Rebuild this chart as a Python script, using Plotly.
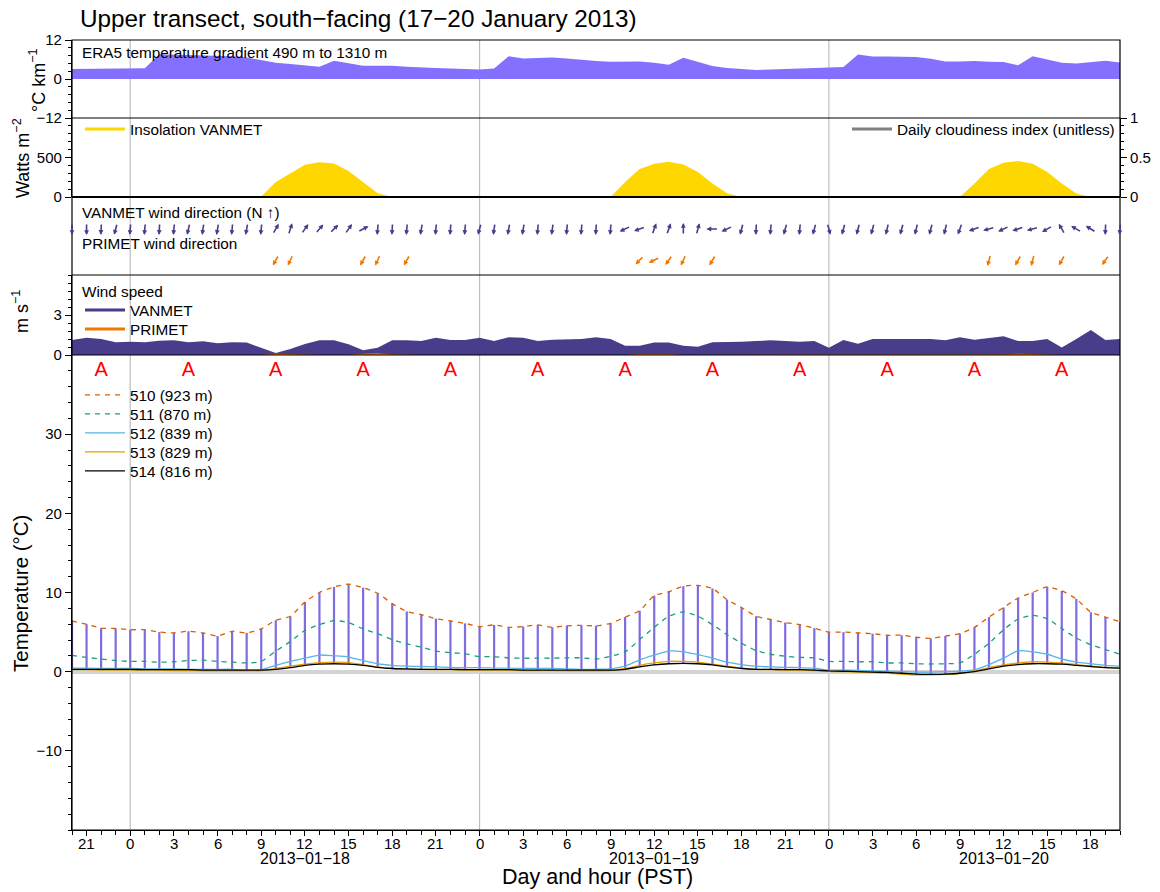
import math
import pandas as pd
import plotly.graph_objects as go

# ---------------- data ----------------
times = pd.date_range("2013-01-17 20:00", periods=73, freq="h")   # hourly, 17 Jan 20:00 .. 20 Jan 20:00

era5_gradient = [3.1, 3.1, 3.2, 3.2, 3.3, 3.3, 7.6, 7.5, 7.5, 7.4, 7.2, 7.0,
                 6.6, 5.9, 5.0, 4.6, 4.2, 3.8, 5.6, 4.8, 4.1, 4.1, 4.1, 3.8,
                 3.5, 3.4, 3.2, 3.0, 2.9, 3.2, 7.0, 6.3, 6.5, 6.6, 6.3, 5.8,
                 5.5, 5.3, 5.4, 5.4, 5.0, 4.4, 6.5, 5.2, 4.0, 3.4, 3.0, 2.8,
                 2.9, 3.1, 3.3, 3.5, 3.6, 3.7, 7.5, 6.9, 6.9, 6.9, 6.8, 6.2,
                 5.4, 5.4, 5.5, 5.3, 5.2, 4.2, 7.0, 6.0, 5.0, 4.8, 5.1, 5.6,
                 5.1]

insolation = [0, 0, 0, 0, 0, 0, 0, 0, 0, 0, 0, 0, 0,
              5, 190, 300, 408, 440, 425, 330, 192, 46,
              0, 0, 0, 0, 0, 0, 0, 0, 0, 0, 0, 0, 0, 0, 0, 0,
              190, 355, 421, 445, 410, 316, 171, 46,
              0, 0, 0, 0, 0, 0, 0, 0, 0, 0, 0, 0, 0, 0, 0, 0,
              170, 355, 435, 455, 420, 315, 170, 45,
              0, 0, 0]

vanmet_speed = [1.12, 1.3, 1.2, 0.95, 1.0, 0.95, 1.07, 1.1, 0.95, 1.03, 0.88, 0.95,
                0.93, 0.55, 0.15, 0.45, 0.82, 1.1, 1.1, 0.8, 0.35, 0.55, 1.1, 1.1,
                1.05, 1.3, 1.12, 1.12, 1.3, 1.05, 1.33, 1.3, 1.05, 1.15, 1.17, 1.2,
                1.33, 1.2, 0.7, 0.7, 0.93, 0.93, 0.7, 0.62, 0.95, 0.95, 1.0, 1.05,
                1.1, 1.05, 1.0, 1.05, 0.55, 1.12, 0.85, 1.2, 1.2, 1.17, 1.2, 1.2,
                1.1, 1.33, 1.15, 1.3, 1.4, 1.05, 1.05, 1.2, 0.57, 1.2, 1.87, 1.12,
                1.2]

primet_speed = [0, 0, 0, 0, 0, 0, 0, 0, 0, 0, 0, 0, 0, 0,
                0.1, 0.06, 0, 0, 0, 0, 0.1, 0.14, 0.04, 0,
                0, 0, 0, 0, 0, 0, 0, 0, 0, 0, 0, 0, 0, 0, 0,
                0.06, 0.08, 0.05, 0, 0, 0, 0, 0, 0, 0, 0, 0, 0, 0, 0,
                0, 0, 0, 0, 0, 0, 0, 0, 0, 0,
                0.04, 0.1, 0.07, 0, 0, 0, 0, 0, 0, 0]

# arrow heading (degrees clockwise from north) for each hour
vanmet_arrow_deg = [180, 180, 183, 195, 185, 185, 183, 185, 193, 188, 190, 185,
                    190, 185, 30, 18, 35, 40, 45, 35, 62, 185, 183, 185,
                    190, 185, 185, 185, 195, 188, 190, 190, 185, 188, 185, 185,
                    183, 185, 245, 250, 20, 20, 0, 15, 270, 245, 195, 183,
                    185, 195, 185, 195, 165, 195, 195, 195, 193, 195, 193, 195,
                    193, 200, 250, 255, 245, 252, 255, 240, 330, 300, 302, 182,
                    185]

primet_times = pd.to_datetime([
    "2013-01-18 10:00", "2013-01-18 11:00", "2013-01-18 16:00", "2013-01-18 17:00",
    "2013-01-18 19:00", "2013-01-19 11:00", "2013-01-19 12:00", "2013-01-19 13:00",
    "2013-01-19 14:00", "2013-01-19 16:00", "2013-01-20 11:00", "2013-01-20 13:00",
    "2013-01-20 14:00", "2013-01-20 16:00", "2013-01-20 19:00"])
primet_arrow_deg = [210, 205, 210, 205, 210, 225, 245, 215, 205, 210, 195, 210, 195, 210, 215]

t510 = [6.4, 6.0, 5.5, 5.45, 5.3, 5.3, 5.0, 4.9, 5.1, 4.9, 4.5, 5.1, 4.9, 5.4,
        6.5, 7.0, 8.8, 10.0, 10.7, 11.05, 10.6, 9.9, 8.6, 7.6,
        7.2, 6.7, 6.4, 6.1, 5.7, 5.9, 5.6, 5.7, 5.9, 5.6,
        5.8, 5.85, 5.8, 6.1, 6.9, 7.7, 9.6, 10.1, 10.8, 10.9,
        10.5, 9.1, 8.1, 7.0, 6.6, 6.2, 5.95, 5.5, 5.0, 5.0,
        4.9, 4.8, 4.6, 4.6, 4.35, 4.2, 4.5, 4.8, 5.6, 6.9,
        8.1, 9.3, 10.0, 10.7, 10.2, 9.2, 7.5, 6.9, 6.3]
t511 = [2.05, 1.8, 1.6, 1.4, 1.3, 1.3, 1.2, 1.25, 1.4, 1.45, 1.3, 1.2, 1.1, 1.3,
        2.6, 3.8, 5.2, 5.95, 6.45, 6.2, 5.4, 4.8, 4.05, 3.5,
        3.1, 2.6, 2.4, 2.25, 1.9, 1.9, 1.75, 1.7, 1.7, 1.7,
        1.75, 1.75, 1.6, 1.95, 2.5, 4.05, 5.6, 7.0, 7.55, 7.0,
        5.95, 4.7, 3.6, 2.65, 2.2, 1.95, 1.8, 1.75, 1.3, 1.3,
        1.25, 1.25, 1.1, 1.1, 1.0, 0.97, 1.0, 1.1, 2.2, 3.6,
        5.3, 6.65, 7.1, 6.7, 5.45, 4.25, 3.4, 2.8, 2.2]
t512 = [0.45, 0.45, 0.4, 0.4, 0.4, 0.35, 0.35, 0.35, 0.3, 0.3, 0.3, 0.3, 0.2, 0.25,
        0.8, 1.3, 1.7, 2.1, 2.0, 1.85, 1.4, 1.0, 0.8, 0.7,
        0.65, 0.6, 0.55, 0.5, 0.5, 0.45, 0.45, 0.4, 0.4, 0.4,
        0.35, 0.3, 0.3, 0.35, 0.7, 1.5, 2.1, 2.6, 2.5, 2.15,
        1.7, 1.2, 0.9, 0.7, 0.6, 0.55, 0.5, 0.45, 0.2, 0.2,
        0.15, 0.1, 0.05, 0.0, -0.05, -0.05, 0.0, 0.05, 0.25, 0.9,
        1.7, 2.65, 2.5, 2.2, 1.6, 1.2, 1.0, 0.8, 0.7]
t513 = [0.25, 0.25, 0.2, 0.2, 0.2, 0.2, 0.2, 0.15, 0.15, 0.1, 0.1, 0.1, 0.1, 0.15,
        0.4, 0.7, 0.95, 1.15, 1.2, 1.15, 0.9, 0.6, 0.4, 0.3,
        0.3, 0.25, 0.25, 0.2, 0.2, 0.2, 0.2, 0.15, 0.15, 0.15,
        0.1, 0.1, 0.1, 0.15, 0.4, 0.8, 1.1, 1.3, 1.3, 1.2,
        0.95, 0.7, 0.45, 0.3, 0.25, 0.2, 0.2, 0.15, 0.05, 0.0,
        -0.05, -0.1, -0.2, -0.3, -0.4, -0.4, -0.35, -0.2, 0.1, 0.5,
        0.85, 1.1, 1.25, 1.2, 1.1, 0.9, 0.7, 0.55, 0.45]
t514 = [0.3, 0.3, 0.3, 0.3, 0.3, 0.25, 0.25, 0.25, 0.25, 0.2, 0.2, 0.2, 0.2, 0.2,
        0.3, 0.5, 0.8, 0.95, 1.0, 0.95, 0.8, 0.55, 0.4, 0.35,
        0.3, 0.3, 0.3, 0.25, 0.25, 0.25, 0.25, 0.2, 0.2, 0.2,
        0.2, 0.2, 0.2, 0.2, 0.3, 0.6, 0.85, 1.0, 1.05, 1.0,
        0.85, 0.6, 0.4, 0.3, 0.3, 0.25, 0.25, 0.2, 0.1, 0.05,
        0.0, -0.05, -0.1, -0.2, -0.3, -0.35, -0.3, -0.2, 0.0, 0.35,
        0.7, 0.9, 1.0, 1.0, 0.95, 0.8, 0.65, 0.5, 0.45]

station_names = ["510 (923 m)", "511 (870 m)", "512 (839 m)", "513 (829 m)", "514 (816 m)"]
station_colors = ["#D95F02", "#1B9E77", "#56B4E9", "#E6A000", "#000000"]
station_dash = ["5px,5px", "5px,5px", "solid", "solid", "solid"]

a_times = pd.date_range("2013-01-17 22:00", periods=12, freq="6h")
midnights = pd.to_datetime(["2013-01-18", "2013-01-19", "2013-01-20"])
day_labels = ["2013\u221201\u221218", "2013\u221201\u221219", "2013\u221201\u221220"]
hour_ticks = pd.date_range("2013-01-17 21:00", "2013-01-20 18:00", freq="3h")
hour_labels = [str(t.hour) for t in hour_ticks]

# ---------------- layout geometry ----------------
W, H = 1160, 892
L_M, R_M, T_M, B_M = 72, 40, 40, 62
PW, PH = W - L_M - R_M, H - T_M - B_M


def px2x(px):
    return (px - L_M) / PW


def py2y(py):
    return (H - B_M - py) / PH


dom1 = [py2y(118), 1.0]
dom2 = [py2y(197), py2y(118)]
dom3 = [py2y(275), py2y(197)]
dom4 = [py2y(355), py2y(275)]
dom5 = [0.0, py2y(355)]

FONT = "Liberation Sans, Arial, sans-serif"
TXT = 15.3
fig = go.Figure()

# ERA5 gradient
fig.add_trace(go.Scatter(x=times, y=era5_gradient, yaxis="y", mode="lines", fill="tozeroy",
                         line=dict(width=0, color="#8470FF"), fillcolor="#8470FF",
                         showlegend=False, hoverinfo="skip"))
# Insolation
fig.add_trace(go.Scatter(x=times, y=insolation, yaxis="y2", mode="lines", fill="tozeroy",
                         line=dict(width=0, color="#FFD700"), fillcolor="#FFD700",
                         showlegend=False))
fig.add_trace(go.Scatter(x=[None], y=[None], yaxis="y2", mode="lines", name="Insolation VANMET",
                         line=dict(color="#FFD700", width=3), legend="legend"))
fig.add_trace(go.Scatter(x=[None], y=[None], yaxis="y3", mode="lines",
                         name="Daily cloudiness index (unitless)",
                         line=dict(color="#808080", width=3), legend="legend2"))
# wind speed
fig.add_trace(go.Scatter(x=times, y=vanmet_speed, yaxis="y5", mode="lines", fill="tozeroy",
                         line=dict(width=0, color="#483D8B"), fillcolor="#483D8B",
                         showlegend=False))
fig.add_trace(go.Scatter(x=times, y=primet_speed, yaxis="y5", mode="lines", fill="tozeroy",
                         line=dict(width=0, color="#F07800"), fillcolor="#F07800",
                         showlegend=False))
fig.add_trace(go.Scatter(x=[None], y=[None], yaxis="y5", mode="lines", name="VANMET",
                         line=dict(color="#483D8B", width=3), legend="legend3"))
fig.add_trace(go.Scatter(x=[None], y=[None], yaxis="y5", mode="lines", name="PRIMET",
                         line=dict(color="#F07800", width=3), legend="legend4"))

# temperature range bars (lowest to highest station)
bx, by = [], []
for t, lo, hi in zip(times, t514, t510):
    bx += [t, t, None]
    by += [lo, hi, None]
fig.add_trace(go.Scatter(x=bx, y=by, yaxis="y6", mode="lines",
                         line=dict(color="rgba(115,95,222,0.92)", width=2.2),
                         showlegend=False, hoverinfo="skip"))
for i, (name, col, dash, series) in enumerate(zip(station_names, station_colors, station_dash,
                                                  [t510, t511, t512, t513, t514])):
    fig.add_trace(go.Scatter(x=times, y=series, yaxis="y6", mode="lines", name=name,
                             line=dict(color=col, width=1.3, dash=dash, shape="spline",
                                       smoothing=0.6),
                             legend="legend%d" % (5 + i)))
fig.add_trace(go.Scatter(x=a_times, y=[38] * len(a_times), yaxis="y6", mode="text",
                         text=["A"] * len(a_times),
                         textfont=dict(color="#FF0000", size=20, family=FONT),
                         showlegend=False))

# ---------------- arrows (wind direction) ----------------
annotations = []
px_per_hour = PW / 72.0
panel3_h = (dom3[1] - dom3[0]) * PH
ARROW = 12.0


def add_arrow(t, deg, row, color):
    th = math.radians(deg)
    sx, sy = math.sin(th), math.cos(th)
    head_x = t + pd.Timedelta(hours=0.5 * ARROW * sx / px_per_hour)
    head_y = row + 0.5 * ARROW * sy / panel3_h
    annotations.append(dict(x=head_x, y=head_y, xref="x", yref="y4", text="",
                            showarrow=True, ax=-ARROW * sx, ay=ARROW * sy,
                            arrowhead=2, arrowsize=0.6, arrowwidth=1.6, arrowcolor=color))


for t, d in zip(times, vanmet_arrow_deg):
    add_arrow(t, d, 0.59, "#483D8B")
for t, d in zip(primet_times, primet_arrow_deg):
    add_arrow(t, d, 0.19, "#F07800")

# ---------------- text annotations ----------------


def txt(text, px, py, size=TXT, anchor="left", angle=0):
    return dict(text=text, x=px2x(px), y=py2y(py), xref="paper", yref="paper",
                xanchor=anchor, yanchor="middle", showarrow=False, textangle=angle,
                font=dict(size=size, family=FONT, color="black"))


annotations += [
    txt("Upper transect, south\u2212facing (17\u221220 January 2013)", 78, 18, size=24.3),
    txt("ERA5 temperature gradient 490 m to 1310 m", 80, 53),
    txt("VANMET wind direction (N \u2191)", 80, 213),
    txt("PRIMET wind direction", 80, 243),
    txt("Wind speed", 80, 291),
    txt("\u00b0C km<sup>\u22121</sup>", 37, 80, size=18, anchor="center", angle=-90),
    txt("Watts m<sup>\u22122</sup>", 21, 158, size=18, anchor="center", angle=-90),
    txt("m s<sup>\u22121</sup>", 21, 312, size=18, anchor="center", angle=-90),
    txt("Temperature (\u00b0C)", 20, 594, size=20.5, anchor="center", angle=-90),
    txt("Day and hour (PST)", 597, 877, size=21.5, anchor="center"),
]
# hour tick labels and day labels below the time axis
for t, lab in zip(hour_ticks, hour_labels):
    annotations.append(dict(text=lab, x=t, y=py2y(843), xref="x", yref="paper",
                            xanchor="center", yanchor="middle", showarrow=False,
                            font=dict(size=15, family=FONT, color="black")))
for m, lab in zip(midnights, day_labels):
    annotations.append(dict(text=lab, x=m + pd.Timedelta(hours=12), y=py2y(858), xref="x",
                            yref="paper", xanchor="center", yanchor="middle", showarrow=False,
                            font=dict(size=16, family=FONT, color="black")))

# ---------------- shapes ----------------
shapes = []
for m in midnights:
    shapes.append(dict(type="line", xref="x", yref="paper", x0=m, x1=m, y0=0, y1=1,
                       line=dict(color="#BEBEBE", width=1.2), layer="below"))
for yb, w in [(dom1[0], 1.2), (dom2[0], 2.2), (dom3[0], 1.2), (dom4[0], 1.2)]:
    shapes.append(dict(type="line", xref="paper", yref="paper", x0=0, x1=1, y0=yb, y1=yb,
                       line=dict(color="black", width=w), layer="above"))
shapes.append(dict(type="rect", xref="paper", yref="paper", x0=0, x1=1, y0=0, y1=1,
                   line=dict(color="black", width=1.2), layer="above"))

# ---------------- axes ----------------
tickfont = dict(size=15, family=FONT, color="black")


def yax(domain, rng, tickvals, minor, **kw):
    d = dict(domain=domain, range=rng, tickvals=tickvals, ticks="outside", ticklen=6,
             tickwidth=1, tickcolor="black", showgrid=False, zeroline=False,
             showline=True, linecolor="black", linewidth=1.2, tickfont=tickfont,
             anchor="x", fixedrange=True, automargin=False,
             minor=dict(tick0=0, dtick=minor, ticks="outside", ticklen=3,
                        tickcolor="black", showgrid=False))
    d.update(kw)
    return d


def leg(px, py, anchor="left"):
    return dict(x=px2x(px), y=py2y(py), xanchor=anchor, yanchor="middle",
                bgcolor="rgba(0,0,0,0)", font=dict(size=TXT, family=FONT, color="black"),
                itemwidth=40, tracegroupgap=0, borderwidth=0)


layout_legends = dict(
    legend=leg(80, 129),
    legend2=leg(1120, 129, anchor="right"),
    legend3=leg(80, 310),
    legend4=leg(80, 329),
)
for i in range(5):
    layout_legends["legend%d" % (5 + i)] = leg(80, 395 + 19 * i)

fig.update_layout(
    width=W, height=H,
    margin=dict(l=L_M, r=R_M, t=T_M, b=B_M, autoexpand=False),
    paper_bgcolor="white", plot_bgcolor="white",
    font=dict(family=FONT, size=14, color="black"),
    xaxis=dict(type="date", range=[times[0], times[-1]], anchor="y6", domain=[0, 1],
               tickvals=list(hour_ticks), showticklabels=False,
               ticks="outside", ticklen=5, tickcolor="black",
               automargin=False,
               showgrid=False, showline=True, linecolor="black", linewidth=1.2,
               minor=dict(dtick=3600 * 1000, tick0="2013-01-18 00:00", ticks="outside",
                          ticklen=4, tickcolor="black", showgrid=False)),
    yaxis=yax(dom1, [-12, 12], [-12, 0, 12], 2.4),
    yaxis2=yax(dom2, [0, 1000], [0, 500], 100),
    yaxis3=yax(dom2, [0, 1], [0, 0.5, 1], 0.1, overlaying="y2", side="right"),
    yaxis4=dict(domain=dom3, range=[0, 1], visible=False, anchor="x", fixedrange=True,
                automargin=False),
    yaxis5=yax(dom4, [0, 6], [0, 3], 0.6),
    yaxis6=yax(dom5, [-20, 40], [-10, 0, 10, 20, 30], 2, zeroline=True,
               zerolinecolor="#D3D3D3", zerolinewidth=4),
    annotations=annotations,
    shapes=shapes,
    showlegend=True,
    **layout_legends,
)

fig.write_html("out.html")
